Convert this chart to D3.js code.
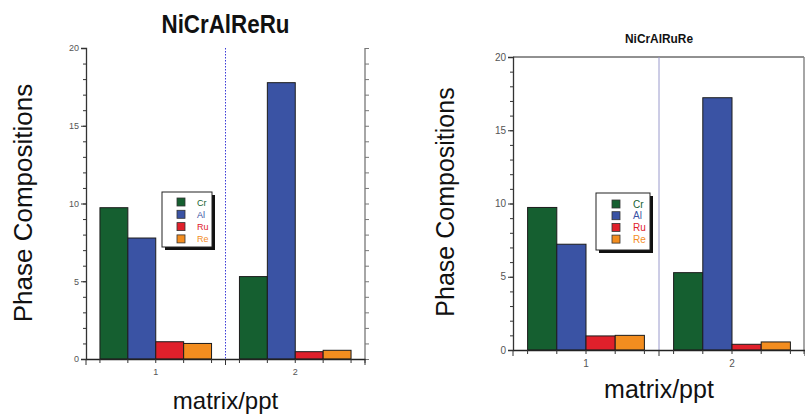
<!DOCTYPE html>
<html>
<head>
<meta charset="utf-8">
<title>Phase compositions</title>
<script src="https://d3js.org/d3.v7.min.js"></script>
<style>
body { margin: 0; background: #fff; }
svg { display: block; font-family: "Liberation Sans", Arial, sans-serif; }
</style>
</head>
<body>
<div id="chart"></div>
<script>
// categories and series
var categories = ["1", "2"];
var elements = ["Cr", "Al", "Ru", "Re"];
var colors = ["#155f30", "#3a53a4", "#e0202b", "#f38d1f"];
var yTicks = [0, 5, 10, 15, 20];

// NiCrAlReRu, values per category (Cr, Al, Ru, Re)
var leftMatrix = [9.73, 7.78, 1.11, 1.0];
var leftPpt = [5.3, 17.77, 0.47, 0.56];

// NiCrAlRuRe
var rightMatrix = [9.73, 7.22, 0.96, 1.0];
var rightPpt = [5.28, 17.22, 0.39, 0.55];

var svg = d3.select("#chart").append("svg")
  .attr("width", 805).attr("height", 414);

function drawChart(opt) {
  var data = [opt.matrix, opt.ppt];
  var g = svg.append("g");

  var x = d3.scaleBand().domain(categories).range([opt.left, opt.right]).padding(0);
  var xs = d3.scaleBand().domain(elements).range([0, x.bandwidth()]).paddingInner(0).paddingOuter(0.5);
  var y = d3.scaleLinear().domain([0, 20]).range([opt.bottom, opt.top]);

  // frame bits
  if (opt.topLine) {
    g.append("line").attr("x1", opt.left).attr("x2", opt.frameRight)
      .attr("y1", opt.top).attr("y2", opt.top).attr("stroke", "#222");
  }
  g.append("line").attr("x1", opt.frameRight).attr("x2", opt.frameRight)
    .attr("y1", opt.top).attr("y2", opt.bottom + 4).attr("stroke", "#888").attr("stroke-width", 1.5);

  if (opt.rightTicks) {
    var ra = g.append("g").attr("transform", "translate(" + opt.frameRight + ",0)")
      .call(d3.axisRight(y).ticks(20).tickSize(4).tickFormat(""));
    ra.select(".domain").remove();
    ra.selectAll("line").attr("stroke", "#777");
  }

  // divider between categories
  g.append("line")
    .attr("x1", x("2")).attr("x2", x("2"))
    .attr("y1", opt.top).attr("y2", opt.bottom)
    .attr("stroke", opt.dividerColor)
    .attr("stroke-dasharray", opt.dividerDash)
    .attr("stroke-width", 1);

  // bars
  g.append("g").selectAll("g")
    .data(data)
    .enter().append("g")
      .attr("transform", function(d, i) { return "translate(" + x(categories[i]) + ",0)"; })
    .selectAll("rect")
    .data(function(d) { return d; })
    .enter().append("rect")
      .attr("x", function(d, i) { return xs(elements[i]); })
      .attr("y", function(d) { return y(d); })
      .attr("width", xs.bandwidth())
      .attr("height", function(d) { return y(0) - y(d); })
      .attr("fill", function(d, i) { return colors[i]; })
      .attr("stroke", "#1c1c1c")
      .attr("stroke-width", 1);

  // y axis
  var ya = g.append("g").attr("transform", "translate(" + opt.left + ",0)")
    .call(d3.axisLeft(y).tickValues(yTicks).tickSize(5).tickPadding(2));
  ya.selectAll("text").attr("font-size", opt.tickFont).attr("fill", "#555")
    .attr("font-family", "'Liberation Sans', Arial, sans-serif");
  ya.selectAll("line").attr("stroke", "#333");
  ya.select(".domain").attr("stroke", "#333").attr("stroke-width", 1.3);
  var ym = g.append("g").attr("transform", "translate(" + opt.left + ",0)")
    .call(d3.axisLeft(y).ticks(20).tickSize(3).tickFormat(""));
  ym.select(".domain").remove();
  ym.selectAll("line").attr("stroke", "#333");

  // x axis
  var xa = g.append("g").attr("transform", "translate(0," + opt.bottom + ")")
    .call(d3.axisBottom(x).tickSize(0).tickPadding(opt.xPad).tickSizeOuter(0));
  xa.select(".domain").attr("stroke", "#222").attr("stroke-width", 1.3);
  xa.selectAll("text").attr("font-size", opt.tickFont).attr("fill", "#555")
    .attr("font-family", "'Liberation Sans', Arial, sans-serif");

  // minor ticks at bar edges and divider
  var edges = [];
  categories.forEach(function(c) {
    elements.forEach(function(e) { edges.push(x(c) + xs(e)); });
    edges.push(x(c) + xs("Re") + xs.bandwidth());
  });
  var majors = [opt.left, x("2"), opt.right];
  g.append("g").selectAll("line").data(edges.concat(majors)).enter().append("line")
    .attr("x1", function(d) { return d; }).attr("x2", function(d) { return d; })
    .attr("y1", opt.bottom)
    .attr("y2", function(d, i) { return opt.bottom + (i >= edges.length ? 6 : 4); })
    .attr("stroke", "#333");

  // titles
  g.append("text")
    .attr("x", (opt.left + opt.right) / 2).attr("y", opt.titleY)
    .attr("text-anchor", "middle")
    .attr("font-weight", "bold")
    .attr("font-size", opt.titleSize)
    .attr("fill", "#111")
    .attr("textLength", opt.titleLength)
    .attr("lengthAdjust", "spacingAndGlyphs")
    .text(opt.title);

  g.append("text")
    .attr("transform", "translate(" + opt.yLabelX + "," + opt.yLabelY + ") rotate(-90)")
    .attr("text-anchor", "middle")
    .attr("font-size", opt.yLabelSize)
    .attr("fill", "#111")
    .text("Phase Compositions");

  g.append("text")
    .attr("x", (opt.left + opt.right) / 2).attr("y", opt.xLabelY)
    .attr("text-anchor", "middle")
    .attr("font-size", opt.xLabelSize)
    .attr("fill", "#111")
    .text("matrix/ppt");

  // legend
  var lg = g.append("g").attr("transform", "translate(" + opt.legendX + "," + opt.legendY + ")");
  lg.append("rect").attr("x", 3).attr("y", 3).attr("width", opt.legendW).attr("height", opt.legendH).attr("fill", "#111");
  lg.append("rect").attr("width", opt.legendW).attr("height", opt.legendH)
    .attr("fill", "#fff").attr("stroke", "#222").attr("stroke-width", 1);
  var items = lg.selectAll("g.item").data(elements).enter().append("g")
    .attr("transform", function(d, i) { return "translate(0," + (opt.legendFirst + i * opt.legendStep) + ")"; });
  items.append("rect")
    .attr("x", opt.swatchX).attr("y", -4).attr("width", 8).attr("height", 8)
    .attr("fill", function(d, i) { return colors[i]; })
    .attr("stroke", "#333").attr("stroke-width", 0.8);
  items.append("text")
    .attr("x", opt.labelX).attr("y", 3.5)
    .attr("font-size", opt.legendFont)
    .attr("fill", function(d, i) { return colors[i]; })
    .text(function(d) { return d; });
}

drawChart({
  title: "NiCrAlReRu", matrix: leftMatrix, ppt: leftPpt,
  left: 86, right: 365, top: 48, bottom: 359, frameRight: 365,
  topLine: false, rightTicks: true,
  dividerColor: "#3b3bd6", dividerDash: "1.5,1.5",
  tickFont: 9, xPad: 10, titleY: 33, titleSize: 25, titleLength: 128,
  yLabelX: 32, yLabelY: 203, yLabelSize: 26,
  xLabelY: 409, xLabelSize: 24,
  legendX: 162, legendY: 192, legendW: 50, legendH: 55,
  legendFirst: 10, legendStep: 12.3, swatchX: 15, labelX: 35, legendFont: 9
});

drawChart({
  title: "NiCrAlRuRe", matrix: rightMatrix, ppt: rightPpt,
  left: 513, right: 805, top: 57, bottom: 350, frameRight: 804,
  topLine: true, rightTicks: false,
  dividerColor: "#9a9acc", dividerDash: null,
  tickFont: 10, xPad: 10, titleY: 43, titleSize: 12, titleLength: 68,
  yLabelX: 454, yLabelY: 202, yLabelSize: 25,
  xLabelY: 398, xLabelSize: 25,
  legendX: 596, legendY: 193, legendW: 54, legendH: 57,
  legendFirst: 11, legendStep: 11.7, swatchX: 16, labelX: 37, legendFont: 10
});
</script>
</body>
</html>
